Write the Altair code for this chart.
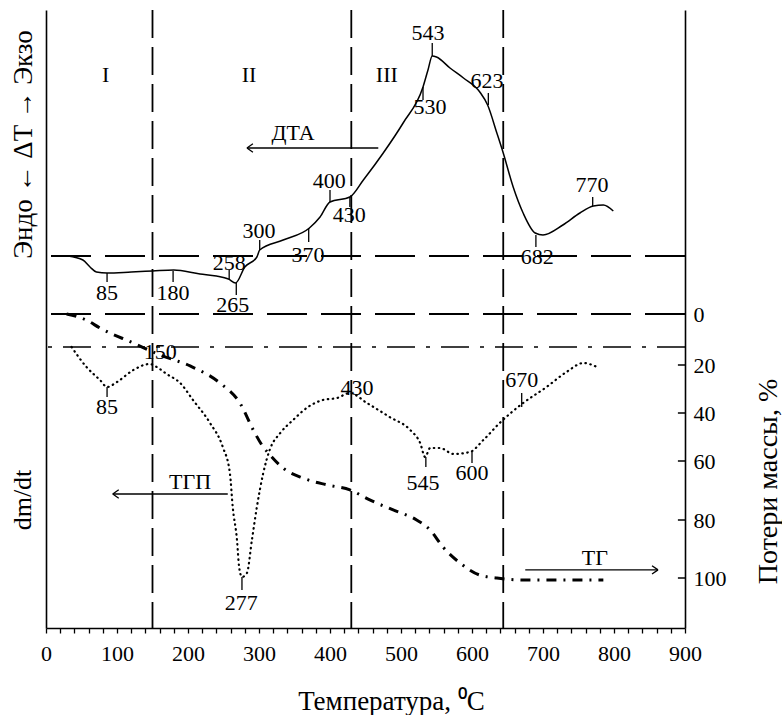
import altair as alt
import pandas as pd

# ---------------- data ----------------
# DTA curve (arbitrary units, 0 = DTA baseline)
dta_t = [31, 52, 62, 71, 86, 120, 150, 180, 217, 240, 257, 267, 280, 297, 301, 334, 371, 386, 400,
         428, 447, 475, 503, 531, 538, 544, 550, 569, 588, 611, 622, 635, 644, 658, 672, 689, 700,
         728, 752, 771, 785, 799]
dta_v = [0, -4, -11, -16, -17, -16, -15, -14, -18, -20, -23, -27, -11, -1, 6, 16, 28, 39, 54,
         59, 76, 103, 133, 169, 186, 200, 199, 188, 178, 164, 151, 123, 103, 69, 43, 23, 21,
         31, 43, 50, 51, 45]

# DTG (dm/dt) curve (arbitrary units, 0 = DTG baseline)
dtg_t = [36, 57, 76, 86, 100, 123, 146, 156, 170, 189, 207, 231, 249, 259, 263, 269, 272, 276,
         283, 290, 297, 306, 315, 330, 348, 369, 390, 410, 428, 452, 484, 513, 527, 534, 541,
         555, 574, 597, 616, 639, 672, 705, 733, 757, 776]
dtg_v = [0, -20, -33, -40, -35, -23, -17, -20, -27, -36, -53, -76, -100, -126, -160, -193, -220, -230,
         -226, -193, -160, -126, -103, -86, -73, -60, -53, -51, -46, -56, -70, -83, -96, -110, -101,
         -101, -107, -105, -93, -76, -56, -40, -25, -16, -20]

# TG curve, mass loss %
tg_t = [29, 57, 76, 123, 161, 203, 245, 273, 292, 304, 318, 334, 362, 396, 428, 456, 489, 522,
        541, 559, 583, 611, 635, 672, 720, 785]
tg_v = [0, 2.4, 5.5, 11.4, 16.1, 20.4, 27.5, 35.8, 47.1, 53.3, 58.3, 62.4, 65.8, 68.1, 69.8, 73.2,
        76.6, 80, 83.4, 89.3, 94.8, 99, 100, 100.7, 100.7, 100.7]

x_ticks = list(range(0, 901, 20))
tg_ticks = [0, 20, 40, 60, 80, 100]
stage_lines = [150, 430, 644]
stage_names = ["I", "II", "III"]
stage_name_t = [84, 286, 480]
stage_name_v = [181, 181, 181]

# DTA peak annotations
dta_ann_label = ["85", "180", "258", "265", "300", "370", "400", "430", "530", "543", "623", "682", "770"]
dta_ann_t = [86, 179, 258, 268, 301, 370, 400, 428, 531, 544, 623, 690, 770]
dta_ann_y1 = [-17, -15, -14, -27, 6, 28, 54, 59, 169, 200, 151, 21, 50]
dta_ann_y2 = [-26, -26, -23, -39, 16, 14, 66, 49, 156, 213, 163, 9, 59]
dta_ann_tx = [86, 179, 258, 263, 300, 369, 399, 427, 541, 538, 621, 692, 769]
dta_ann_ty = [-37, -37, -7, -49, 25, 1, 75, 41, 149, 223, 175, -1, 71]

# DTG peak annotations
dtg_tick_t = [86, 276, 535, 600, 670]
dtg_tick_y1 = [-40, -230, -110, -105, -60]
dtg_tick_y2 = [-50, -243, -120, -116, -46]
dtg_text_label = ["150", "85", "277", "430", "545", "600", "670"]
dtg_text_t = [161, 86, 275, 438, 531, 600, 670]
dtg_text_v = [-5, -60, -256, -41, -136, -126, -33]

FONT = "Liberation Serif"
W, H = 639, 618

x_scale = alt.Scale(domain=[0, 900], nice=False, zero=False)
s_dta = alt.Scale(domain=[-372, 246], nice=False, zero=False)
s_dtg = alt.Scale(domain=[-281, 337], nice=False, zero=False)
s_tg = alt.Scale(domain=[-119.2, 0, 20, 40, 60, 80, 100, 117.2],
                 range=[0, 304, 355, 403, 451, 510, 568, 618], nice=False, zero=False)

df_dta = pd.DataFrame({"t": dta_t, "v": dta_v})
df_dtg = pd.DataFrame({"t": dtg_t, "v": dtg_v})
df_tg = pd.DataFrame({"t": tg_t, "v": tg_v})


def X(field="t", axis=None):
    return alt.X(f"{field}:Q", scale=x_scale, axis=axis)


def txt(df, size=22, angle=0):
    kw = dict(font=FONT, fontSize=size, color="black", align="center", baseline="middle")
    if angle:
        kw["angle"] = angle
    return alt.Chart(df).mark_text(**kw)


def head(direction):
    if direction == "left":
        shape = "M0,0L1,-0.7M0,0L1,0.7"
    else:
        shape = "M0,0L-1,-0.7M0,0L-1,0.7"
    return dict(shape=shape, filled=False, stroke="black", strokeWidth=1.3, size=144, opacity=1)


x_axis = alt.Axis(orient="bottom", values=x_ticks, labelExpr="datum.value % 100 === 0 ? datum.label : ''",
                  tickSize=5, tickColor="black", tickWidth=1.3, domainColor="black", domainWidth=1.6,
                  labelFont=FONT, labelFontSize=22, labelColor="black", labelBaseline="alphabetic",
                  labelPadding=27, labelFlush=False, labelOverlap=False, grid=False,
                  title="Температура, ⁰C", titleFont=FONT, titleFontSize=27, titleFontWeight="normal",
                  titleColor="black", titleX=345, titleY=81, titleBaseline="alphabetic", titleAlign="center")

left_axis = alt.Axis(orient="left", ticks=False, labels=False, grid=False, domainColor="black", domainWidth=1.6,
                     title="Эндо ← ΔT → Экзо", titleFont=FONT, titleFontSize=27, titleFontWeight="normal",
                     titleColor="black", titleAngle=270, titleX=-23, titleY=134,
                     titleAlign="center", titleBaseline="middle")

right_axis = alt.Axis(orient="right", values=tg_ticks, ticks=False, grid=False, domainColor="black",
                      domainWidth=1.6, labelFont=FONT, labelFontSize=22, labelColor="black",
                      labelPadding=8, labelAlign="left", labelBaseline="middle",
                      title="Потери массы, %", titleFont=FONT, titleFontSize=28, titleFontWeight="normal",
                      titleColor="black", titleAngle=270, titleX=83, titleY=471,
                      titleAlign="center", titleBaseline="middle")

# ---------------- DTA layers ----------------
dta_line = alt.Chart(df_dta).mark_line(color="black", strokeWidth=1.5, interpolate="monotone").encode(
    x=X(axis=x_axis), y=alt.Y("v:Q", scale=s_dta, axis=left_axis))
dta_base = alt.Chart(pd.DataFrame({"v": [0]})).mark_rule(
    color="black", strokeWidth=1.8, strokeDash=[40, 14]).encode(y=alt.Y("v:Q", scale=s_dta, axis=None))
vlines = alt.Chart(pd.DataFrame({"t": stage_lines})).mark_rule(
    color="black", strokeWidth=1.8, strokeDash=[28, 9]).encode(x=X())
df_dta_ann = pd.DataFrame({"label": dta_ann_label, "t": dta_ann_t, "y1": dta_ann_y1, "y2": dta_ann_y2,
                           "tx": dta_ann_tx, "ty": dta_ann_ty})
dta_ticks = alt.Chart(df_dta_ann).mark_rule(color="black", strokeWidth=1.3).encode(
    x=X(), y=alt.Y("y1:Q", scale=s_dta, axis=None), y2="y2:Q")
dta_texts = txt(df_dta_ann).encode(x=X("tx"), y=alt.Y("ty:Q", scale=s_dta, axis=None), text="label:N")
stages = txt(pd.DataFrame({"label": stage_names, "t": stage_name_t, "v": stage_name_v})).encode(
    x=X(), y=alt.Y("v:Q", scale=s_dta, axis=None), text="label:N")
dta_arrow_df = pd.DataFrame({"t": [283], "t2": [468], "v": [108]})
dta_arrow = alt.Chart(dta_arrow_df).mark_rule(color="black", strokeWidth=1.3).encode(
    x=X(), x2="t2:Q", y=alt.Y("v:Q", scale=s_dta, axis=None))
dta_head = alt.Chart(dta_arrow_df).mark_point(**head("left")).encode(
    x=X(), y=alt.Y("v:Q", scale=s_dta, axis=None))
dta_name = txt(pd.DataFrame({"label": ["ДТА"], "t": [348], "v": [123]})).encode(
    x=X(), y=alt.Y("v:Q", scale=s_dta, axis=None), text="label:N")

# ---------------- DTG layers ----------------
dtg_line = alt.Chart(df_dtg).mark_line(color="black", strokeWidth=2.2, strokeDash=[0.5, 4.5],
                                      strokeCap="round", interpolate="monotone").encode(
    x=X(), y=alt.Y("v:Q", scale=s_dtg, axis=None))
dtg_base = alt.Chart(pd.DataFrame({"v": [0]})).mark_rule(
    color="black", strokeWidth=1.6, strokeDash=[28, 11, 4, 11]).encode(y=alt.Y("v:Q", scale=s_dtg, axis=None))
dtg_ticks = alt.Chart(pd.DataFrame({"t": dtg_tick_t, "y1": dtg_tick_y1, "y2": dtg_tick_y2})).mark_rule(
    color="black", strokeWidth=1.3).encode(x=X(), y=alt.Y("y1:Q", scale=s_dtg, axis=None), y2="y2:Q")
dtg_texts = txt(pd.DataFrame({"label": dtg_text_label, "t": dtg_text_t, "v": dtg_text_v})).encode(
    x=X(), y=alt.Y("v:Q", scale=s_dtg, axis=None), text="label:N")
dtg_arrow_df = pd.DataFrame({"t": [94], "t2": [256], "v": [-147]})
dtg_arrow = alt.Chart(dtg_arrow_df).mark_rule(color="black", strokeWidth=1.3).encode(
    x=X(), x2="t2:Q", y=alt.Y("v:Q", scale=s_dtg, axis=None))
dtg_head = alt.Chart(dtg_arrow_df).mark_point(**head("left")).encode(
    x=X(), y=alt.Y("v:Q", scale=s_dtg, axis=None))
dtg_name = txt(pd.DataFrame({"label": ["ТГП"], "t": [203], "v": [-135]})).encode(
    x=X(), y=alt.Y("v:Q", scale=s_dtg, axis=None), text="label:N")
dmdt = txt(pd.DataFrame({"label": ["dm/dt"], "t": [-32], "v": [-153]}), size=26, angle=270).encode(
    x=X(), y=alt.Y("v:Q", scale=s_dtg, axis=None), text="label:N")

# ---------------- TG layers ----------------
tg_line = alt.Chart(df_tg).mark_line(color="black", strokeWidth=3, strokeDash=[10, 7, 2, 7],
                                    interpolate="monotone").encode(
    x=X(), y=alt.Y("v:Q", scale=s_tg, axis=right_axis))
tg_base = alt.Chart(pd.DataFrame({"v": [0]})).mark_rule(
    color="black", strokeWidth=1.8, strokeDash=[40, 14]).encode(y=alt.Y("v:Q", scale=s_tg, axis=None))
tg_axis_ticks = alt.Chart(pd.DataFrame({"v": tg_ticks, "t": [890] * 6, "t2": [900] * 6})).mark_rule(
    color="black", strokeWidth=1.5).encode(x=X(), x2="t2:Q", y=alt.Y("v:Q", scale=s_tg, axis=None))
tg_arrow_df = pd.DataFrame({"t": [862], "t2": [675], "v": [97.2]})
tg_arrow = alt.Chart(tg_arrow_df).mark_rule(color="black", strokeWidth=1.3).encode(
    x=X(), x2="t2:Q", y=alt.Y("v:Q", scale=s_tg, axis=None))
tg_head = alt.Chart(tg_arrow_df).mark_point(**head("right")).encode(
    x=X(), y=alt.Y("v:Q", scale=s_tg, axis=None))
tg_name = txt(pd.DataFrame({"label": ["ТГ"], "t": [773], "v": [93.1]})).encode(
    x=X(), y=alt.Y("v:Q", scale=s_tg, axis=None), text="label:N")

chart = alt.layer(
    dta_line, tg_line,
    dta_base, vlines, dta_ticks, dta_texts, stages, dta_arrow, dta_head, dta_name,
    dtg_base, dtg_line, dtg_ticks, dtg_texts, dtg_arrow, dtg_head, dtg_name, dmdt,
    tg_base, tg_axis_ticks, tg_arrow, tg_head, tg_name,
).resolve_scale(x="independent", y="independent").properties(
    width=W, height=H,
    padding={"left": 46, "top": 10, "right": 97, "bottom": 87},
    autosize=alt.AutoSizeParams(type="none"),
    background="white",
).configure_view(stroke=None)

chart.save("out.html", embed_options={"renderer": "svg", "actions": False})
